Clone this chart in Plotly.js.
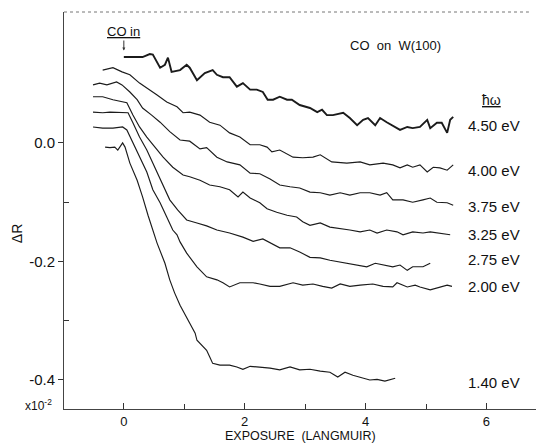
<!DOCTYPE html>
<html>
<head>
<meta charset="utf-8">
<script src="https://cdn.plot.ly/plotly-3.0.1.min.js"></script>
<style>html,body{margin:0;padding:0;background:#fff;}#chart{width:536px;height:444px;}</style>
</head>
<body>
<div id="chart"></div>
<script>
// ---- data (exposure in Langmuir, ΔR in units of 1e-2) ----
const x450 = [0,0.15,0.31,0.43,0.48,0.60,0.68,0.73,0.79,0.93,1.04,1.09,1.21,1.34,1.47,1.54,1.64,1.75,1.87,1.97,2.09,2.20,2.30,2.38,2.47,2.58,2.70,2.78,2.91,3.08,3.20,3.28,3.36,3.46,3.63,3.74,3.86,3.96,4.04,4.16,4.24,4.35,4.44,4.57,4.69,4.78,4.90,5.02,5.07,5.18,5.26,5.35,5.40,5.45];
const y450 = [0.145,0.145,0.145,0.150,0.149,0.127,0.132,0.144,0.120,0.123,0.132,0.127,0.106,0.118,0.123,0.115,0.111,0.111,0.095,0.101,0.090,0.090,0.086,0.073,0.073,0.078,0.073,0.073,0.064,0.059,0.052,0.056,0.047,0.047,0.051,0.042,0.030,0.039,0.042,0.030,0.042,0.035,0.030,0.022,0.027,0.025,0.027,0.039,0.025,0.034,0.034,0.017,0.039,0.044];

const x400 = [-0.35,-0.18,-0.03,0.10,0.26,0.43,0.55,0.71,0.88,0.98,1.09,1.26,1.42,1.59,1.75,1.92,2.09,2.25,2.37,2.45,2.58,2.80,2.96,3.13,3.25,3.44,3.69,3.91,4.07,4.29,4.45,4.57,4.69,4.78,4.90,5.02,5.12,5.23,5.35,5.45];
const y400 = [0.123,0.127,0.120,0.115,0.101,0.090,0.081,0.069,0.061,0.051,0.052,0.047,0.035,0.030,0.017,0.010,-0.003,-0.003,-0.007,-0.015,-0.012,-0.024,-0.025,-0.024,-0.020,-0.032,-0.034,-0.032,-0.037,-0.034,-0.037,-0.042,-0.037,-0.041,-0.037,-0.049,-0.041,-0.042,-0.046,-0.037];

const x375 = [-0.51,-0.40,-0.28,-0.12,-0.03,0.10,0.22,0.31,0.46,0.60,0.76,0.93,1.09,1.26,1.37,1.54,1.71,1.92,2.09,2.25,2.42,2.58,2.75,2.91,3.08,3.25,3.41,3.58,3.74,3.91,4.07,4.24,4.35,4.45,4.62,4.78,4.95,5.07,5.18,5.35,5.45];
const y375 = [0.098,0.101,0.098,0.103,0.098,0.086,0.073,0.059,0.047,0.035,0.019,0.005,0.003,-0.010,-0.008,-0.024,-0.032,-0.037,-0.051,-0.052,-0.061,-0.071,-0.074,-0.076,-0.083,-0.084,-0.088,-0.084,-0.088,-0.084,-0.084,-0.088,-0.084,-0.096,-0.096,-0.100,-0.096,-0.093,-0.100,-0.101,-0.105];

const x325 = [-0.51,-0.35,-0.18,-0.03,0.05,0.15,0.26,0.38,0.51,0.65,0.81,0.98,1.09,1.26,1.42,1.59,1.75,1.89,1.97,2.09,2.25,2.37,2.53,2.70,2.86,2.96,3.08,3.25,3.41,3.58,3.74,3.91,4.07,4.19,4.35,4.52,4.62,4.78,4.95,5.07,5.23,5.40];
const y325 = [0.078,0.078,0.073,0.069,0.068,0.047,0.027,0.010,-0.007,-0.024,-0.041,-0.054,-0.057,-0.063,-0.071,-0.074,-0.079,-0.091,-0.083,-0.093,-0.101,-0.111,-0.117,-0.122,-0.125,-0.133,-0.139,-0.135,-0.142,-0.144,-0.147,-0.150,-0.147,-0.152,-0.147,-0.150,-0.155,-0.150,-0.152,-0.150,-0.152,-0.155];

const x275 = [-0.51,-0.35,-0.23,-0.02,0.07,0.15,0.26,0.38,0.51,0.63,0.76,0.89,1.04,1.21,1.37,1.54,1.75,1.97,2.14,2.30,2.42,2.58,2.75,2.91,3.08,3.25,3.41,3.58,3.74,3.91,4.02,4.16,4.29,4.45,4.57,4.69,4.78,4.95,5.07];
const y275 = [0.052,0.051,0.052,0.052,0.051,0.034,0.010,-0.012,-0.041,-0.068,-0.096,-0.113,-0.130,-0.135,-0.140,-0.147,-0.152,-0.159,-0.166,-0.162,-0.169,-0.177,-0.177,-0.184,-0.193,-0.194,-0.198,-0.201,-0.203,-0.206,-0.209,-0.203,-0.206,-0.209,-0.206,-0.215,-0.209,-0.209,-0.203];

const x200 = [-0.51,-0.35,-0.18,-0.02,0.05,0.15,0.26,0.38,0.48,0.60,0.71,0.81,0.88,0.93,1.04,1.21,1.37,1.54,1.64,1.75,1.92,2.14,2.25,2.42,2.58,2.80,2.96,3.13,3.29,3.44,3.58,3.74,3.91,4.12,4.29,4.45,4.52,4.69,4.82,4.90,5.07,5.23,5.35,5.43];
const y200 = [0.027,0.025,0.025,0.027,0.022,0.000,-0.024,-0.049,-0.079,-0.101,-0.125,-0.147,-0.155,-0.167,-0.186,-0.209,-0.226,-0.231,-0.236,-0.243,-0.236,-0.236,-0.238,-0.242,-0.242,-0.236,-0.240,-0.238,-0.242,-0.245,-0.238,-0.242,-0.240,-0.238,-0.242,-0.243,-0.236,-0.243,-0.240,-0.243,-0.248,-0.243,-0.240,-0.242];

const x140 = [-0.31,-0.23,-0.15,-0.10,-0.02,0.02,0.10,0.22,0.31,0.40,0.55,0.68,0.76,0.84,0.93,1.04,1.13,1.18,1.21,1.29,1.37,1.42,1.47,1.59,1.75,1.87,1.97,2.09,2.25,2.42,2.58,2.75,2.91,3.08,3.25,3.41,3.54,3.66,3.79,3.91,4.07,4.19,4.32,4.49];
const y140 = [-0.007,-0.008,-0.007,-0.012,0.000,-0.007,-0.034,-0.063,-0.091,-0.122,-0.169,-0.203,-0.231,-0.253,-0.274,-0.294,-0.311,-0.321,-0.333,-0.341,-0.350,-0.361,-0.372,-0.375,-0.375,-0.378,-0.382,-0.377,-0.378,-0.380,-0.383,-0.378,-0.383,-0.382,-0.385,-0.387,-0.395,-0.387,-0.392,-0.395,-0.400,-0.399,-0.402,-0.397];

const seriesNames = ["4.50 eV","4.00 eV","3.75 eV","3.25 eV","2.75 eV","2.00 eV","1.40 eV"];
const xTickVals = [0,2,4,6];
const xTickText = ["0","2","4","6"];
const yTickVals = [0,-0.2,-0.4];
const yTickText = ["0.0","-0.2","-0.4"];

// ---- traces ----
const xs = [x450,x400,x375,x325,x275,x200,x140];
const ys = [y450,y400,y375,y325,y275,y200,y140];
const traces = xs.map((xv,i)=>({
  x: xv, y: ys[i], name: seriesNames[i], type:'scatter', mode:'lines',
  line:{color:'#1b1b1b', width: i===0 ? 1.9 : 1.15},
  hoverinfo:'skip', showlegend:false
}));

// label y positions beside the curve ends
const labelY = [0.029,-0.046,-0.108,-0.155,-0.196,-0.242,-0.404];
const FONT = 'Liberation Sans, Arial, sans-serif';
const ann = seriesNames.map((t,i)=>({
  x:5.66, y:labelY[i], xref:'x', yref:'y', text:t, showarrow:false,
  xanchor:'left', yanchor:'middle', font:{family:FONT,size:15,color:'#111'}
}));
ann.push({x:6.09, y:0.073, xref:'x', yref:'y', text:'<u>ħω</u>', showarrow:false,
  xanchor:'center', yanchor:'middle', font:{family:FONT,size:14,color:'#111'}});
ann.push({x:4.49, y:0.164, xref:'x', yref:'y', text:'CO  on  W(100)', showarrow:false,
  xanchor:'center', yanchor:'middle', font:{family:FONT,size:13,color:'#111'}});
ann.push({x:0, y:0.156, xref:'x', yref:'y', text:'<u>CO in</u>', showarrow:true,
  ax:0, ay:-19, arrowhead:2, arrowsize:0.6, arrowwidth:1, arrowcolor:'#333',
  font:{family:FONT,size:13,color:'#111'}});
ann.push({x:0, y:-0.154, xref:'paper', yref:'y', text:'ΔR', showarrow:false,
  textangle:-90, xanchor:'center', yanchor:'middle', xshift:-47,
  font:{family:FONT,size:14,color:'#111'}});
ann.push({x:0, y:0, xref:'paper', yref:'paper', text:'x10<sup>-2</sup>', showarrow:false,
  xanchor:'right', yanchor:'middle', xshift:-10, yshift:4,
  font:{family:FONT,size:12,color:'#111'}});
ann.push({x:0.5, y:0, xref:'paper', yref:'paper', text:'EXPOSURE  (LANGMUIR)', showarrow:false,
  xanchor:'center', yanchor:'middle', yshift:-27,
  font:{family:FONT,size:12.5,color:'#111'}});

const layout = {
  width:536, height:444,
  margin:{l:64, r:0, t:12, b:35},
  paper_bgcolor:'#fff', plot_bgcolor:'#fff',
  font:{family:FONT, color:'#111'},
  xaxis:{
    range:[-0.99,6.82], tickvals:xTickVals, ticktext:xTickText,
    ticks:'inside', ticklen:6, tickcolor:'#333', tickwidth:1,
    minor:{tickvals:[1,3,5], ticks:'inside', ticklen:5, tickcolor:'#333'},
    showline:true, linecolor:'#444', linewidth:1, mirror:false,
    showgrid:false, zeroline:false, ticklabelstandoff:0,
    tickfont:{family:FONT,size:13,color:'#111'}
  },
  yaxis:{
    range:[-0.449,0.221], tickvals:yTickVals, ticktext:yTickText,
    ticks:'outside', ticklen:5, tickcolor:'#333', tickwidth:1,
    minor:{tickvals:[-0.1,-0.3], ticks:'inside', ticklen:5, tickcolor:'#333'},
    showline:true, linecolor:'#444', linewidth:1,
    showgrid:false, zeroline:false,
    tickfont:{family:FONT,size:15,color:'#111'}
  },
  shapes:[
    {type:'line', xref:'paper', yref:'paper', x0:0, x1:0.985, y0:1, y1:1,
     line:{color:'#777', width:1, dash:'dot'}}
  ],
  annotations: ann
};

Plotly.newPlot('chart', traces, layout, {displayModeBar:false, staticPlot:true});
</script>
</body>
</html>
